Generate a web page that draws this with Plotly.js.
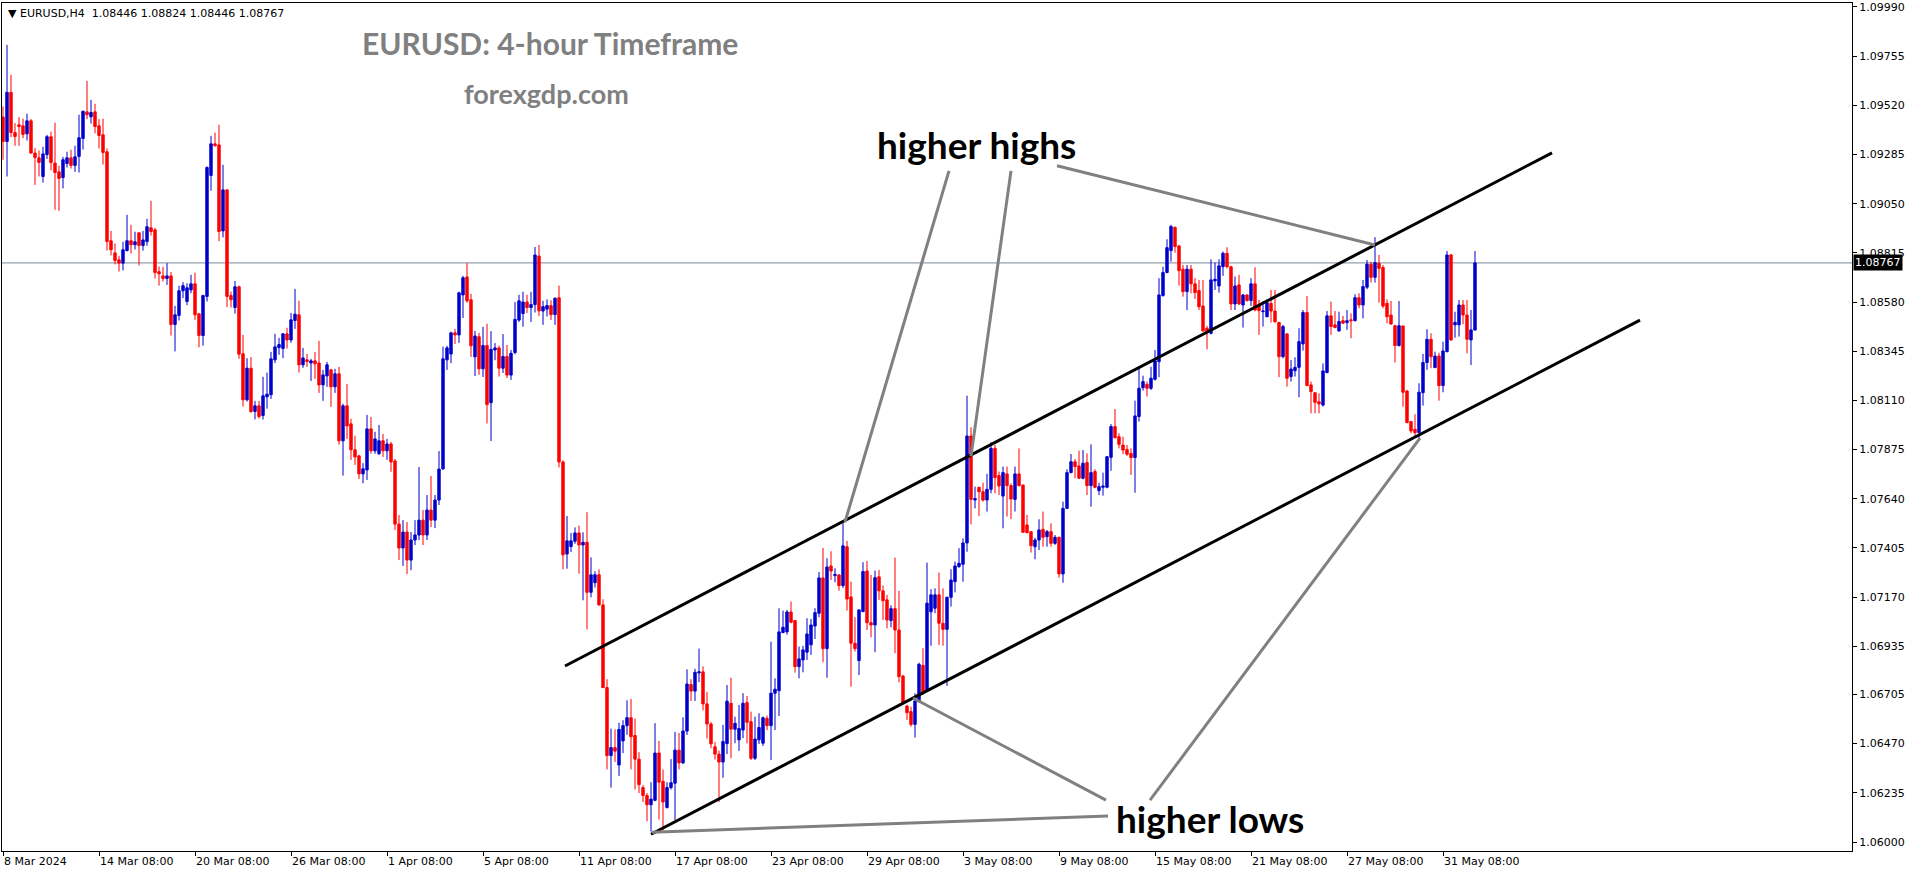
<!DOCTYPE html>
<html><head><meta charset="utf-8">
<script src="https://cdn.plot.ly/plotly-3.0.1.min.js"></script>
<style>html,body{margin:0;padding:0;background:#fff;}#chart{width:1916px;height:884px;}</style>
</head><body><div id="chart"></div>
<script>
const symbol = 'EURUSD,H4';
const timeLabels = ['8 Mar 2024','14 Mar 08:00','20 Mar 08:00','26 Mar 08:00','1 Apr 08:00','5 Apr 08:00','11 Apr 08:00','17 Apr 08:00','23 Apr 08:00','29 Apr 08:00','3 May 08:00','9 May 08:00','15 May 08:00','21 May 08:00','27 May 08:00','31 May 08:00'];
const timeLabelBars = [0,24,48,72,96,120,144,168,192,216,240,264,288,312,336,360];
const priceTicks = [1.09990,1.09755,1.09520,1.09285,1.09050,1.08815,1.08580,1.08345,1.08110,1.07875,1.07640,1.07405,1.07170,1.06935,1.06705,1.06470,1.06235,1.06000];

const open = [
1.09464,1.09347,1.09582,1.09390,1.09427,1.09422,1.09384,1.09446,1.09292,1.09269,
1.09180,1.09285,1.09370,1.09244,1.09202,1.09175,1.09242,1.09269,1.09233,1.09276,
1.09362,1.09489,1.09465,1.09489,1.09422,1.09379,1.09298,1.08873,1.08815,1.08782,
1.08766,1.08826,1.08873,1.08854,1.08911,1.08850,1.08869,1.08935,1.08925,1.08725,
1.08705,1.08693,1.08705,1.08473,1.08516,1.08634,1.08583,1.08638,1.08667,1.08524,
1.08420,1.08607,1.09185,1.09336,1.09331,1.08920,1.09116,1.08611,1.08554,1.08653,
1.08333,1.08113,1.08264,1.08057,1.08084,1.08038,1.08127,1.08137,1.08304,1.08363,
1.08358,1.08428,1.08399,1.08492,1.08519,1.08280,1.08304,1.08289,1.08299,1.08289,
1.08184,1.08227,1.08256,1.08175,1.08237,1.07917,1.08084,1.07998,1.07874,1.07845,
1.07759,1.07778,1.07974,1.07869,1.07855,1.07917,1.07869,1.07902,1.07821,1.07519,
1.07405,1.07481,1.07347,1.07443,1.07467,1.07538,1.07467,1.07586,1.07538,1.07634,
1.07783,1.08304,1.08332,1.08433,1.08423,1.08614,1.08700,1.08591,1.08318,1.08414,
1.08261,1.08372,1.08099,1.08351,1.08361,1.08264,1.08320,1.08231,1.08339,1.08494,
1.08525,1.08580,1.08554,1.08568,1.08800,1.08537,1.08546,1.08563,1.08520,1.08601,
1.07816,1.07376,1.07412,1.07437,1.07477,1.07419,1.07432,1.07193,1.07239,1.07277,
1.07133,1.06738,1.06413,1.06451,1.06368,1.06483,1.06556,1.06594,1.06509,1.06396,
1.06260,1.06222,1.06178,1.06199,1.06425,1.06290,1.06165,1.06260,1.06281,1.06439,
1.06378,1.06530,1.06752,1.06721,1.06808,1.06813,1.06660,1.06564,1.06455,1.06420,
1.06382,1.06470,1.06663,1.06539,1.06488,1.06535,1.06666,1.06575,1.06400,1.06488,
1.06472,1.06591,1.06556,1.06711,1.06723,1.07001,1.07004,1.07099,1.07058,1.06838,
1.06870,1.06907,1.06942,1.07032,1.07093,1.07262,1.06924,1.07319,1.07273,1.07276,
1.07225,1.07411,1.07171,1.06950,1.06867,1.07101,1.07295,1.07048,1.07037,1.07267,
1.07200,1.07157,1.07058,1.07115,1.07013,1.06793,1.06650,1.06623,1.06562,1.06671,
1.06844,1.06727,1.07100,1.07117,1.07181,1.07045,1.07016,1.07169,1.07244,1.07316,
1.07327,1.07429,1.07940,1.07634,1.07695,1.07674,1.07634,1.07685,1.07881,1.07751,
1.07653,1.07759,1.07703,1.07637,1.07759,1.07706,1.07515,1.07483,1.07411,1.07443,
1.07494,1.07459,1.07483,1.07427,1.07456,1.07281,1.07594,1.07765,1.07817,1.07797,
1.07738,1.07813,1.07703,1.07770,1.07679,1.07695,1.07695,1.07838,1.07985,1.07937,
1.07897,1.07876,1.07857,1.07837,1.08033,1.08171,1.08187,1.08168,1.08211,1.08295,
1.08611,1.08721,1.08826,1.08937,1.08848,1.08737,1.08630,1.08737,1.08667,1.08635,
1.08561,1.08455,1.08431,1.08681,1.08657,1.08749,1.08813,1.08749,1.08571,1.08662,
1.08566,1.08614,1.08587,1.08667,1.08566,1.08534,1.08510,1.08574,1.08537,1.08483,
1.08319,1.08428,1.08224,1.08252,1.08268,1.08380,1.08530,1.08184,1.08147,1.08104,
1.08088,1.08243,1.08514,1.08471,1.08442,1.08491,1.08482,1.08495,1.08491,1.08601,
1.08566,1.08651,1.08761,1.08698,1.08765,1.08745,1.08574,1.08518,1.08467,1.08372,
1.08466,1.08155,1.08009,1.07972,1.07956,1.08147,1.08291,1.08402,1.08267,1.08322,
1.08181,1.08343,1.08805,1.08471,1.08471,1.08566,1.08518,1.08399,1.08446];

const high = [
1.09515,1.09809,1.09666,1.09435,1.09464,1.09456,1.09480,1.09454,1.09316,1.09304,
1.09322,1.09379,1.09394,1.09437,1.09231,1.09274,1.09298,1.09308,1.09327,1.09475,
1.09496,1.09637,1.09546,1.09527,1.09454,1.09456,1.09314,1.08920,1.08860,1.08801,
1.08868,1.08997,1.08949,1.08916,1.08911,1.08920,1.08978,1.09064,1.08935,1.08750,
1.08748,1.08766,1.08724,1.08562,1.08658,1.08675,1.08670,1.08710,1.08720,1.08524,
1.08615,1.09228,1.09374,1.09390,1.09427,1.09236,1.09120,1.08630,1.08681,1.08658,
1.08423,1.08312,1.08317,1.08108,1.08108,1.08223,1.08243,1.08342,1.08428,1.08409,
1.08432,1.08457,1.08528,1.08643,1.08586,1.08361,1.08332,1.08309,1.08342,1.08395,
1.08256,1.08294,1.08261,1.08261,1.08270,1.08094,1.08189,1.08022,1.07941,1.07850,
1.07810,1.08041,1.08031,1.07960,1.07993,1.07950,1.07926,1.07912,1.07830,1.07562,
1.07538,1.07529,1.07481,1.07538,1.07792,1.07586,1.07658,1.07749,1.07658,1.07868,
1.08367,1.08371,1.08438,1.08452,1.08629,1.08705,1.08766,1.08619,1.08442,1.08433,
1.08462,1.08476,1.08441,1.08384,1.08372,1.08427,1.08375,1.08351,1.08580,1.08615,
1.08629,1.08615,1.08629,1.08843,1.08853,1.08586,1.08593,1.08589,1.08603,1.08659,
1.07824,1.07558,1.07477,1.07503,1.07512,1.07480,1.07576,1.07360,1.07294,1.07303,
1.07160,1.06778,1.06542,1.06538,1.06570,1.06582,1.06677,1.06683,1.06590,1.06429,
1.06272,1.06234,1.06286,1.06568,1.06483,1.06347,1.06286,1.06396,1.06526,1.06521,
1.06596,1.06825,1.06778,1.06828,1.06924,1.06839,1.06717,1.06573,1.06477,1.06437,
1.06560,1.06750,1.06785,1.06599,1.06655,1.06711,1.06698,1.06623,1.06599,1.06615,
1.06599,1.06604,1.06957,1.06782,1.07117,1.07106,1.07109,1.07149,1.07061,1.06934,
1.06937,1.07069,1.07066,1.07117,1.07290,1.07405,1.07356,1.07389,1.07308,1.07280,
1.07523,1.07439,1.07244,1.07074,1.07112,1.07337,1.07343,1.07276,1.07297,1.07300,
1.07225,1.07181,1.07131,1.07359,1.07200,1.06798,1.06655,1.06647,1.06711,1.06857,
1.06926,1.07335,1.07208,1.07212,1.07287,1.07212,1.07173,1.07303,1.07340,1.07404,
1.07451,1.08133,1.07982,1.07698,1.07695,1.07717,1.07759,1.07910,1.07897,1.07770,
1.07794,1.07794,1.07714,1.07794,1.07881,1.07706,1.07563,1.07483,1.07454,1.07542,
1.07579,1.07491,1.07523,1.07467,1.07459,1.07626,1.07781,1.07854,1.07830,1.07870,
1.07873,1.07857,1.07900,1.07781,1.07717,1.07765,1.07845,1.07997,1.08069,1.07953,
1.07937,1.07897,1.07881,1.08109,1.08264,1.08228,1.08200,1.08271,1.08351,1.08694,
1.08749,1.08880,1.08949,1.08941,1.08853,1.08757,1.08757,1.08757,1.08694,1.08686,
1.08686,1.08466,1.08784,1.08769,1.08784,1.08821,1.08842,1.08753,1.08702,1.08710,
1.08619,1.08617,1.08694,1.08746,1.08590,1.08585,1.08593,1.08638,1.08638,1.08483,
1.08471,1.08428,1.08303,1.08316,1.08455,1.08542,1.08609,1.08200,1.08147,1.08144,
1.08287,1.08537,1.08582,1.08537,1.08534,1.08514,1.08542,1.08526,1.08617,1.08622,
1.08686,1.08781,1.08773,1.08890,1.08805,1.08757,1.08593,1.08585,1.08471,1.08585,
1.08466,1.08160,1.08009,1.08044,1.08192,1.08332,1.08450,1.08431,1.08343,1.08338,
1.08391,1.08824,1.08810,1.08534,1.08590,1.08590,1.08590,1.08542,1.08824];

const low = [
1.09260,1.09180,1.09368,1.09327,1.09327,1.09363,1.09352,1.09288,1.09140,1.09180,
1.09151,1.09264,1.09209,1.09021,1.09016,1.09123,1.09223,1.09218,1.09202,1.09199,
1.09309,1.09454,1.09433,1.09386,1.09314,1.09237,1.08826,1.08803,1.08760,1.08726,
1.08731,1.08822,1.08812,1.08831,1.08755,1.08826,1.08849,1.08898,1.08693,1.08659,
1.08678,1.08662,1.08420,1.08344,1.08492,1.08599,1.08565,1.08622,1.08495,1.08364,
1.08372,1.08583,1.09112,1.09323,1.08871,1.08889,1.08556,1.08554,1.08525,1.08309,
1.08081,1.08105,1.08050,1.08019,1.08023,1.08019,1.08071,1.08117,1.08288,1.08328,
1.08312,1.08358,1.08385,1.08452,1.08243,1.08266,1.08270,1.08203,1.08213,1.08146,
1.08108,1.08175,1.08079,1.08146,1.07898,1.07751,1.07926,1.07826,1.07802,1.07735,
1.07714,1.07730,1.07855,1.07855,1.07850,1.07840,1.07826,1.07769,1.07491,1.07347,
1.07319,1.07280,1.07299,1.07419,1.07443,1.07419,1.07443,1.07505,1.07500,1.07610,
1.07778,1.08256,1.08288,1.08380,1.08385,1.08504,1.08576,1.08318,1.08227,1.08232,
1.08222,1.08000,1.07916,1.08302,1.08224,1.08241,1.08217,1.08208,1.08330,1.08485,
1.08462,1.08528,1.08485,1.08530,1.08514,1.08471,1.08511,1.08494,1.08471,1.07790,
1.07303,1.07306,1.07386,1.07425,1.07282,1.07155,1.07016,1.07169,1.07216,1.07129,
1.06735,1.06347,1.06260,1.06382,1.06316,1.06425,1.06512,1.06347,1.06251,1.06234,
1.06191,1.06099,1.06050,1.06195,1.06107,1.06055,1.06160,1.06251,1.06104,1.06347,
1.06373,1.06512,1.06674,1.06674,1.06764,1.06629,1.06495,1.06448,1.06394,1.06191,
1.06307,1.06420,1.06400,1.06472,1.06435,1.06496,1.06472,1.06392,1.06392,1.06468,
1.06459,1.06535,1.06392,1.06535,1.06602,1.06997,1.06991,1.07045,1.06809,1.06782,
1.06811,1.06870,1.06894,1.06970,1.07074,1.06859,1.06785,1.07252,1.07241,1.07201,
1.07214,1.07106,1.06742,1.06910,1.06798,1.07098,1.07013,1.06978,1.06907,1.07157,
1.07061,1.07021,1.07026,1.06902,1.06763,1.06663,1.06583,1.06551,1.06499,1.06666,
1.06703,1.06719,1.06938,1.07093,1.06942,1.06938,1.06746,1.07125,1.07193,1.07310,
1.07244,1.07387,1.07518,1.07594,1.07558,1.07626,1.07579,1.07666,1.07666,1.07658,
1.07499,1.07555,1.07543,1.07579,1.07698,1.07478,1.07475,1.07383,1.07351,1.07395,
1.07411,1.07411,1.07411,1.07420,1.07263,1.07239,1.07591,1.07762,1.07738,1.07735,
1.07733,1.07658,1.07602,1.07690,1.07658,1.07655,1.07690,1.07774,1.07928,1.07881,
1.07854,1.07845,1.07754,1.07669,1.08009,1.08157,1.08128,1.08160,1.08205,1.08221,
1.08606,1.08718,1.08773,1.08816,1.08659,1.08606,1.08542,1.08622,1.08595,1.08542,
1.08439,1.08354,1.08425,1.08638,1.08625,1.08705,1.08741,1.08542,1.08542,1.08566,
1.08458,1.08582,1.08561,1.08536,1.08423,1.08463,1.08507,1.08482,1.08479,1.08221,
1.08311,1.08176,1.08200,1.08224,1.08125,1.08348,1.08178,1.08048,1.08048,1.08048,
1.08080,1.08240,1.08423,1.08455,1.08439,1.08476,1.08447,1.08407,1.08488,1.08550,
1.08502,1.08641,1.08673,1.08673,1.08577,1.08550,1.08479,1.08472,1.08291,1.08368,
1.08080,1.08001,1.07953,1.07937,1.07929,1.08085,1.08256,1.08264,1.08264,1.08109,
1.08149,1.08340,1.08395,1.08410,1.08415,1.08474,1.08335,1.08279,1.08446];

const close = [
1.09347,1.09582,1.09390,1.09371,1.09419,1.09381,1.09446,1.09292,1.09271,1.09247,
1.09288,1.09370,1.09247,1.09199,1.09171,1.09260,1.09269,1.09233,1.09274,1.09365,
1.09491,1.09475,1.09486,1.09419,1.09376,1.09295,1.08869,1.08830,1.08779,1.08766,
1.08830,1.08873,1.08854,1.08868,1.08850,1.08877,1.08940,1.08917,1.08721,1.08715,
1.08693,1.08705,1.08473,1.08519,1.08634,1.08658,1.08648,1.08667,1.08519,1.08420,
1.08611,1.09223,1.09336,1.09327,1.08917,1.09116,1.08607,1.08591,1.08653,1.08331,
1.08113,1.08264,1.08057,1.08084,1.08033,1.08132,1.08140,1.08309,1.08366,1.08377,
1.08428,1.08399,1.08495,1.08522,1.08280,1.08313,1.08296,1.08299,1.08285,1.08184,
1.08232,1.08280,1.08175,1.08237,1.07917,1.08084,1.07988,1.07874,1.07840,1.07759,
1.07783,1.07974,1.07869,1.07926,1.07917,1.07869,1.07902,1.07816,1.07519,1.07405,
1.07481,1.07347,1.07443,1.07467,1.07538,1.07467,1.07586,1.07538,1.07634,1.07782,
1.08309,1.08361,1.08433,1.08423,1.08624,1.08696,1.08586,1.08371,1.08418,1.08261,
1.08372,1.08090,1.08354,1.08361,1.08264,1.08320,1.08231,1.08335,1.08497,1.08586,
1.08580,1.08554,1.08568,1.08805,1.08538,1.08558,1.08563,1.08520,1.08598,1.07816,
1.07372,1.07439,1.07439,1.07477,1.07419,1.07432,1.07193,1.07277,1.07277,1.07133,
1.06738,1.06413,1.06451,1.06434,1.06538,1.06556,1.06594,1.06503,1.06396,1.06274,
1.06222,1.06178,1.06205,1.06425,1.06286,1.06191,1.06260,1.06283,1.06439,1.06378,
1.06530,1.06755,1.06721,1.06811,1.06813,1.06660,1.06564,1.06469,1.06420,1.06382,
1.06480,1.06673,1.06539,1.06567,1.06542,1.06663,1.06572,1.06400,1.06492,1.06547,
1.06594,1.06556,1.06711,1.06730,1.07004,1.07026,1.07099,1.07050,1.06838,1.06875,
1.06918,1.06994,1.07037,1.07096,1.07262,1.06924,1.07314,1.07295,1.07279,1.07225,
1.07415,1.07161,1.06950,1.06924,1.07109,1.07292,1.07048,1.07037,1.07263,1.07200,
1.07153,1.07061,1.07115,1.07013,1.06790,1.06666,1.06618,1.06562,1.06674,1.06849,
1.06711,1.07141,1.07181,1.07181,1.07045,1.07016,1.07169,1.07252,1.07319,1.07332,
1.07429,1.07940,1.07637,1.07641,1.07674,1.07634,1.07685,1.07881,1.07741,1.07701,
1.07765,1.07703,1.07639,1.07759,1.07703,1.07480,1.07478,1.07416,1.07443,1.07491,
1.07456,1.07483,1.07427,1.07456,1.07281,1.07594,1.07765,1.07817,1.07794,1.07738,
1.07810,1.07703,1.07765,1.07695,1.07698,1.07701,1.07841,1.07985,1.07932,1.07900,
1.07873,1.07853,1.07837,1.08036,1.08168,1.08200,1.08168,1.08216,1.08299,1.08614,
1.08721,1.08840,1.08941,1.08845,1.08730,1.08630,1.08737,1.08667,1.08625,1.08558,
1.08442,1.08439,1.08686,1.08689,1.08753,1.08813,1.08749,1.08571,1.08657,1.08571,
1.08614,1.08587,1.08667,1.08542,1.08539,1.08537,1.08577,1.08537,1.08487,1.08319,
1.08463,1.08216,1.08260,1.08268,1.08391,1.08530,1.08181,1.08152,1.08101,1.08093,
1.08251,1.08514,1.08463,1.08458,1.08487,1.08479,1.08491,1.08491,1.08601,1.08566,
1.08654,1.08761,1.08698,1.08769,1.08741,1.08561,1.08510,1.08475,1.08372,1.08467,
1.08149,1.08004,1.07964,1.07956,1.08149,1.08291,1.08402,1.08319,1.08322,1.08181,
1.08346,1.08805,1.08399,1.08483,1.08566,1.08518,1.08402,1.08447,1.08767];

// trend lines drawn on the chart: [barStart, priceStart, barEnd, priceEnd]
const channelLines = [[140.5,1.06841,387.25,1.09293],[162,1.06037,409.25,1.08494]];
const pointerLines = [[236.5,1.09207,210.5,1.07529],[252,1.09207,242,1.07844],[263.5,1.09231,343,1.08853],
                      [162.25,1.06047,276.25,1.06124],[227.5,1.06688,275.75,1.06200],[354.25,1.07930,286.75,1.06200]];

const n = close.length;
const bars = close.map((_, i) => i);
const last = n - 1;
const f5 = v => v.toFixed(5);
const lastPrice = close[last];

const shapes = [];
channelLines.forEach(l => shapes.push({type:'line', xref:'x', yref:'y', x0:l[0], y0:l[1], x1:l[2], y1:l[3], line:{color:'#000000', width:3}}));
pointerLines.forEach(l => shapes.push({type:'line', xref:'x', yref:'y', x0:l[0], y0:l[1], x1:l[2], y1:l[3], line:{color:'#808080', width:3}}));
shapes.push({type:'line', xref:'paper', yref:'y', x0:0, x1:1, y0:lastPrice, y1:lastPrice, line:{color:'#7a8799', width:1}, layer:'below'});

const nb = '\u00a0';
const annotations = [
  {xref:'paper', yref:'paper', x:0.0022, y:0.9882, xanchor:'left', yanchor:'middle', showarrow:false,
   text:'▼' + nb + symbol + nb + nb + f5(open[last]) + nb + f5(high[last]) + nb + f5(low[last]) + nb + f5(close[last]),
   font:{family:'DejaVu Sans', size:11, color:'#000000'}},
  {xref:'paper', yref:'paper', x:0.1935, y:0.9528, xanchor:'left', yanchor:'middle', showarrow:false,
   text:'EURUSD: 4-hour Timeframe', font:{family:'Lato', size:30, color:'#808080', weight:700}},
  {xref:'paper', yref:'paper', x:0.2486, y:0.8927, xanchor:'left', yanchor:'middle', showarrow:false,
   text:'forexgdp.com', font:{family:'Lato', size:27, color:'#808080', weight:700}},
  {xref:'paper', yref:'paper', x:0.4719, y:0.8337, xanchor:'left', yanchor:'middle', showarrow:false,
   text:'higher highs', font:{family:'Lato', size:37, color:'#000000', weight:700}},
  {xref:'paper', yref:'paper', x:0.6011, y:0.0389, xanchor:'left', yanchor:'middle', showarrow:false,
   text:'higher lows', font:{family:'Lato', size:37, color:'#000000', weight:700}},
  {xref:'paper', yref:'y', x:1, xshift:1, y:lastPrice, xanchor:'left', yanchor:'middle', showarrow:false,
   text:f5(lastPrice), bgcolor:'#000000', borderpad:1, font:{family:'DejaVu Sans', size:11, color:'#ffffff'}}
];

const trace = {
  type:'candlestick', x:bars, open:open, high:high, low:low, close:close,
  increasing:{line:{color:'#0000CD', width:1}, fillcolor:'#0000CD'},
  decreasing:{line:{color:'#FF0000', width:1}, fillcolor:'#FF0000'},
  whiskerwidth:0, hoverinfo:'skip', showlegend:false
};

const layout = {
  width:1916, height:884,
  margin:{l:2, r:64, t:3, b:33, pad:0},
  paper_bgcolor:'#ffffff', plot_bgcolor:'#ffffff',
  showlegend:false, hovermode:false, dragmode:false,
  boxgap:0.4, boxgroupgap:0,
  xaxis:{range:[-0.25, 462.25], showgrid:false, zeroline:false, showline:true, mirror:true,
         linecolor:'#000000', linewidth:1, ticks:'outside', ticklen:4, tickcolor:'#000000',
         tickvals:timeLabelBars, ticktext:timeLabels, ticklabelposition:'outside right',
         tickfont:{family:'DejaVu Sans', size:11, color:'#000000'}, rangeslider:{visible:false}, fixedrange:true},
  yaxis:{side:'right', range:[1.05957, 1.10009], showgrid:false, zeroline:false, showline:true, mirror:true,
         linecolor:'#000000', linewidth:1, ticks:'outside', ticklen:4, tickcolor:'#000000',
         tickvals:priceTicks, ticktext:priceTicks.map(f5),
         tickfont:{family:'DejaVu Sans', size:11, color:'#000000'}, fixedrange:true},
  shapes:shapes, annotations:annotations
};

Plotly.newPlot('chart', [trace], layout, {staticPlot:true, displayModeBar:false});
</script></body></html>
